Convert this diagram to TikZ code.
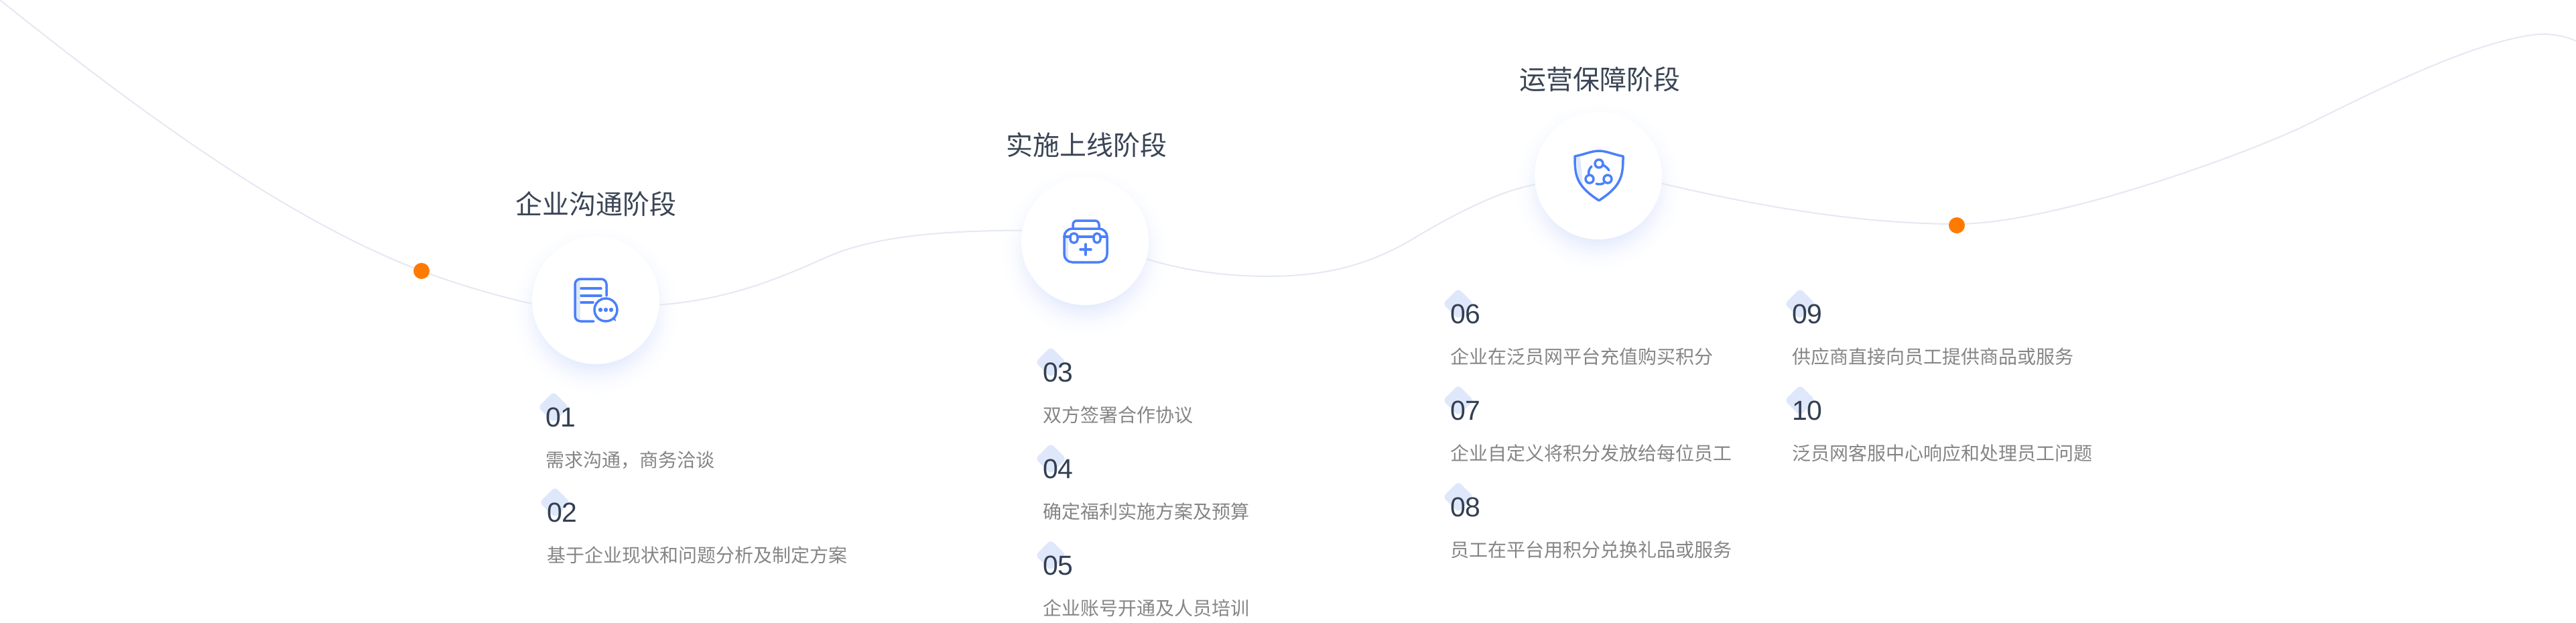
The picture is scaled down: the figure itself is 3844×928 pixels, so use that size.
\documentclass[tikz,border=0pt]{standalone}
\usepackage{fontspec}
\usepackage{xcolor}
\usepackage{tikz}
\usetikzlibrary{positioning,shapes.geometric,backgrounds}
\setmainfont{Noto Sans CJK SC}
\newfontfamily\numfont{Liberation Sans}
\definecolor{titleink}{HTML}{3A4555}
\definecolor{numink}{HTML}{333F52}
\definecolor{descgray}{HTML}{858585}
\definecolor{curvegray}{HTML}{E4E8F2}
\definecolor{iconblue}{HTML}{4B80FA}
\definecolor{iconpale}{HTML}{DFE8FD}
\definecolor{markblue}{HTML}{DFE7FB}
\definecolor{dotorange}{HTML}{FF7A00}
\definecolor{glowstrong}{HTML}{E4EBFD}
\newcommand{\stageglow}[1]{%
  \foreach \glowr in {132,129,...,81} {
    \pgfmathsetmacro{\glowpct}{100*((132-\glowr)/52)^2}
    \fill[glowstrong!\glowpct!white] ([yshift=-8pt]#1.center) circle[radius=\glowr*0.5pt];
  }}

\begin{document}
\begin{tikzpicture}[
  x=0.5pt, y=-0.5pt,
  stage/.style={circle, fill=white, minimum size=95pt, inner sep=0pt, outer sep=0pt},
  stagetitle/.style={inner sep=0pt, outer sep=0pt, text=titleink, font=\fontsize{20}{20}\selectfont, text height=17.6pt, text depth=2.4pt},
  itemmark/.style={diamond, fill=markblue, rounded corners=3pt, minimum size=23pt, inner sep=0pt, outer sep=0pt},
  itemnum/.style={inner sep=0pt, outer sep=0pt, text=numink, font=\numfont\fontsize{20.5}{20.5}\selectfont, text height=14.5pt, text depth=0pt},
  itemdesc/.style={inner sep=0pt, outer sep=0pt, text=descgray, font=\fontsize{14}{14}\selectfont, text height=12.32pt, text depth=1.68pt},
  curvedot/.style={circle, fill=dotorange, minimum size=12pt, inner sep=0pt, outer sep=0pt},
  curveline/.style={draw=curvegray, line width=1pt},
  iconline/.style={draw=iconblue, line width=1.75pt, line cap=round, line join=round}
]
\useasboundingbox (0,0) rectangle (3844,928);

\node[stage] (stagecomm) at (889,448) {};
\node[stage] (stagelaunch) at (1619,360) {};
\node[stage] (stageops) at (2385,262) {};
\node[curvedot] (dotleft) at (629,404) {};
\node[curvedot] (dotright) at (2920,336) {};
\coordinate (curvestart) at (0,0);
\coordinate (curveend) at (3844,61);

\node[stagetitle, above=14.5pt of stagecomm] (titlecomm) {企业沟通阶段};
\node[stagetitle, above=14.5pt of stagelaunch, xshift=1pt] (titlelaunch) {实施上线阶段};
\node[stagetitle, above=14.5pt of stageops, xshift=1pt] (titleops) {运营保障阶段};

\begin{pgfonlayer}{background}
\stageglow{stagecomm}
\stageglow{stagelaunch}
\stageglow{stageops}
\draw[curveline] (curvestart) .. controls (210,168) and (429,328) .. (dotleft.center);
\draw[curveline] (dotleft.center) .. controls (680,423) and (740,441) .. (stagecomm.183);
\draw[curveline] (stagecomm.-4) .. controls (1080,447) and (1150,421) .. (1230,385) .. controls (1300,353) and (1400,344) .. (stagelaunch.170);
\draw[curveline] (stagelaunch.-16) .. controls (1770,404) and (1830,412) .. (1891,412) .. controls (1980,412) and (2042,394) .. (2102,360) .. controls (2165,322) and (2235,285) .. (stageops.188);
\draw[curveline] (stageops.-7) .. controls (2560,292) and (2740,334) .. (2920,334);
\draw[curveline] (2920,334) .. controls (3060,334) and (3330,238) .. (3434,190) .. controls (3530,143) and (3690,60) .. (3789,51) .. controls (3810,50) and (3830,55) .. (curveend);
\end{pgfonlayer}

\fill[iconpale] (860,418) rectangle (866,477);
\draw[iconline, rounded corners=4pt] (905,441) -- (905,416) -- (858,416) -- (858,479) -- (886,479);
\draw[iconline] (867,430) -- (897,430);
\draw[iconline] (867,441) -- (897,441);
\draw[iconline] (867,451) -- (885,451);
\fill[iconblue] (912,475) -- (919,479) -- (917,468) -- cycle;
\draw[iconline, fill=white] (904,462) circle[radius=8.5pt];
\fill[iconblue] (896,462) circle[radius=1.6pt];
\fill[iconblue] (904,462) circle[radius=1.6pt];
\fill[iconblue] (912,462) circle[radius=1.6pt];

\fill[iconpale] (1590,350) rectangle (1594,386);
\draw[iconline, rounded corners=6pt] (1588,341) rectangle (1652,391);
\draw[iconline, rounded corners=3pt] (1601,341) -- (1601,329) -- (1640,329) -- (1640,341);
\draw[iconline, rounded corners=2.5pt] (1597,348) rectangle (1608,362);
\draw[iconline, rounded corners=2.5pt] (1632,348) rectangle (1642,362);
\draw[iconline] (1588,353) -- (1597,353);
\draw[iconline] (1608,353) -- (1632,353);
\draw[iconline] (1642,353) -- (1652,353);
\draw[iconline] (1612,372) -- (1628,372);
\draw[iconline] (1620,364) -- (1620,380);

\fill[iconpale] (2352,235) -- (2358,234) -- (2362,276) -- (2356,272) -- cycle;
\draw[iconline] (2350,233) .. controls (2362,231) and (2375,225) .. (2386,225) .. controls (2397,225) and (2410,231) .. (2422,233) .. controls (2422,262) and (2420,277) .. (2386,299) .. controls (2352,277) and (2350,262) .. cycle;
\draw[iconline] (2386,244) circle[radius=3pt];
\draw[iconline] (2372,267) circle[radius=3pt];
\draw[iconline] (2399,267) circle[radius=3pt];
\draw[iconline] (2392,246) .. controls (2396,248) and (2399,251) .. (2401,254);
\draw[iconline] (2375,248) .. controls (2371,252) and (2370,256) .. (2371,261);
\draw[iconline] (2382,274) .. controls (2386,275) and (2390,275) .. (2393,273);

\node[itemmark] (markone) at (826,607) {};
\node[itemnum, below right=0pt and -6pt of markone.center] (numone) {01};
\node[itemdesc, below right=18pt and 0pt of numone.south west] (descone) {需求沟通，商务洽谈};
\node[itemmark, below right=24.5pt and 7pt of descone.south west, anchor=center] (marktwo) {};
\node[itemnum, below right=0pt and -6pt of marktwo.center] (numtwo) {02};
\node[itemdesc, below right=18pt and 0pt of numtwo.south west] (desctwo) {基于企业现状和问题分析及制定方案};

\node[itemmark] (markthree) at (1568,540) {};
\node[itemnum, below right=0pt and -6pt of markthree.center] (numthree) {03};
\node[itemdesc, below right=18pt and 0pt of numthree.south west] (descthree) {双方签署合作协议};
\node[itemmark, below right=25.5pt and 6pt of descthree.south west, anchor=center] (markfour) {};
\node[itemnum, below right=0pt and -6pt of markfour.center] (numfour) {04};
\node[itemdesc, below right=18pt and 0pt of numfour.south west] (descfour) {确定福利实施方案及预算};
\node[itemmark, below right=25.5pt and 6pt of descfour.south west, anchor=center] (markfive) {};
\node[itemnum, below right=0pt and -6pt of markfive.center] (numfive) {05};
\node[itemdesc, below right=18pt and 0pt of numfive.south west] (descfive) {企业账号开通及人员培训};

\node[itemmark] (marksix) at (2176,453) {};
\node[itemnum, below right=0pt and -6pt of marksix.center] (numsix) {06};
\node[itemdesc, below right=18pt and 0pt of numsix.south west] (descsix) {企业在泛员网平台充值购买积分};
\node[itemmark, below right=25.5pt and 6pt of descsix.south west, anchor=center] (markseven) {};
\node[itemnum, below right=0pt and -6pt of markseven.center] (numseven) {07};
\node[itemdesc, below right=18pt and 0pt of numseven.south west] (descseven) {企业自定义将积分发放给每位员工};
\node[itemmark, below right=25.5pt and 6pt of descseven.south west, anchor=center] (markeight) {};
\node[itemnum, below right=0pt and -6pt of markeight.center] (numeight) {08};
\node[itemdesc, below right=18pt and 0pt of numeight.south west] (desceight) {员工在平台用积分兑换礼品或服务};

\node[itemmark] (marknine) at (2686,453) {};
\node[itemnum, below right=0pt and -6pt of marknine.center] (numnine) {09};
\node[itemdesc, below right=18pt and 0pt of numnine.south west] (descnine) {供应商直接向员工提供商品或服务};
\node[itemmark, below right=25.5pt and 6pt of descnine.south west, anchor=center] (markten) {};
\node[itemnum, below right=0pt and -6pt of markten.center] (numten) {10};
\node[itemdesc, below right=18pt and 0pt of numten.south west] (descten) {泛员网客服中心响应和处理员工问题};
\end{tikzpicture}
\end{document}
